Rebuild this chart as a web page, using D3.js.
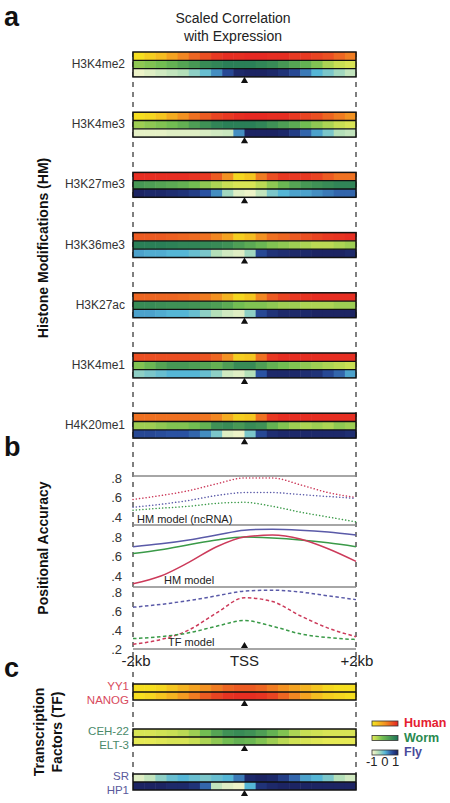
<!DOCTYPE html>
<html><head><meta charset="utf-8">
<script src="https://cdn.jsdelivr.net/npm/d3@7"></script>
<style>body{margin:0;background:#fff}svg{display:block;font-family:Arial,"Liberation Sans",sans-serif}</style>
</head><body>
<svg id="chart" width="450" height="803"></svg>
<script>
// ---------- DATA ----------
const bins = [-2.0,-1.8,-1.6,-1.4,-1.2,-1.0,-0.8,-0.6,-0.4,-0.2,0.0,0.2,0.4,0.6,0.8,1.0,1.2,1.4,1.6,1.8];
const binWidth = 0.2;
const hmMarks = ["H3K4me2","H3K4me3","H3K27me3","H3K36me3","H3K27ac","H3K4me1","H4K20me1"];
const hmHuman = [
  [-0.9,-0.7,-0.5,-0.2,0.1,0.4,0.6,0.8,0.9,0.9,0.95,0.95,0.9,0.9,0.8,0.8,0.7,0.6,0.4,0.2],
  [-0.9,-0.8,-0.6,-0.3,0.0,0.3,0.5,0.7,0.8,0.9,0.95,0.95,0.9,0.9,0.8,0.7,0.6,0.4,0.2,0.0],
  [0.9,0.9,0.9,0.9,0.9,0.85,0.8,0.5,0.0,-0.8,-0.6,0.2,0.6,0.8,0.8,0.8,0.7,0.5,0.3,0.3],
  [0.5,0.5,0.5,0.45,0.4,0.35,0.3,0.1,-0.2,-0.7,-0.5,0.0,0.3,0.4,0.5,0.6,0.7,0.8,0.85,0.9],
  [0.4,0.4,0.4,0.4,0.35,0.3,0.2,0.0,-0.4,-0.8,-0.6,0.1,0.5,0.7,0.8,0.85,0.9,0.9,0.9,0.9],
  [0.6,0.6,0.6,0.6,0.6,0.6,0.55,0.4,0.0,-0.7,-0.6,0.3,0.8,0.9,0.9,0.9,0.9,0.9,0.9,0.9],
  [0.3,0.3,0.3,0.3,0.3,0.3,0.25,0.1,-0.3,-0.7,-0.6,0.3,0.8,0.9,0.9,0.9,0.9,0.9,0.9,0.9]
];
const hmWorm = [
  [-0.4,-0.3,-0.2,0.0,0.2,0.4,0.6,0.7,0.8,0.8,0.8,0.7,0.6,0.4,0.2,0.0,-0.3,-0.6,-0.8,-0.9],
  [-0.5,-0.4,-0.3,-0.2,0.0,0.3,0.5,0.7,0.8,0.8,0.8,0.7,0.5,0.3,0.1,-0.2,-0.4,-0.6,-0.8,-0.9],
  [0.4,0.3,0.2,0.1,0.0,-0.2,-0.4,-0.6,-0.8,-0.9,-0.9,-0.7,-0.4,-0.1,0.2,0.4,0.5,0.6,0.7,0.7],
  [0.8,0.8,0.8,0.75,0.7,0.7,0.65,0.6,0.5,0.3,0.1,-0.1,-0.3,-0.4,-0.5,-0.6,-0.7,-0.7,-0.6,-0.5],
  [0.6,0.6,0.55,0.5,0.5,0.45,0.4,0.3,0.1,-0.2,-0.3,-0.3,-0.4,-0.5,-0.5,-0.6,-0.6,-0.6,-0.5,-0.5],
  [-0.3,-0.1,0.2,0.4,0.4,0.3,0.2,0.0,0.3,0.6,0.6,0.3,0.0,-0.2,-0.3,-0.4,-0.5,-0.6,-0.7,-0.8],
  [-0.5,-0.5,-0.4,-0.3,-0.3,-0.2,0.0,0.5,0.6,0.4,0.6,0.5,0.0,-0.3,-0.5,-0.6,-0.5,-0.6,-0.4,-0.5]
];
const hmFly = [
  [-0.9,-0.8,-0.7,-0.6,-0.5,-0.3,-0.1,0.2,0.6,0.9,0.95,0.95,0.9,0.8,0.6,0.3,0.0,-0.2,-0.4,-0.6],
  [-0.85,-0.85,-0.85,-0.8,-0.8,-0.8,-0.75,-0.7,-0.65,0.2,0.95,0.95,0.95,0.9,0.7,0.4,0.1,-0.2,-0.5,-0.6],
  [0.95,0.9,0.9,0.85,0.8,0.7,0.5,0.2,-0.4,-0.8,-0.9,-0.6,-0.2,0.0,0.1,0.1,0.2,0.3,0.4,0.4],
  [0.1,0.05,0.05,0.0,0.0,-0.1,-0.2,-0.5,-0.7,-0.8,-0.4,0.6,0.8,0.85,0.9,0.9,0.95,0.95,0.95,0.9],
  [0.1,0.1,0.05,0.0,0.0,-0.1,-0.3,-0.5,-0.7,-0.8,-0.3,0.6,0.8,0.9,0.9,0.9,0.95,0.95,0.95,0.95],
  [-0.3,-0.2,-0.1,0.0,0.0,0.0,-0.1,-0.3,-0.7,-0.8,-0.5,0.5,0.9,0.9,0.9,0.85,0.8,0.6,0.4,0.1],
  [0.6,0.6,0.55,0.5,0.5,0.4,0.2,-0.2,-0.8,-0.9,-0.2,0.6,0.85,0.9,0.9,0.9,0.9,0.9,0.9,0.85]
];
const tfNames = [["YY1","NANOG"],["CEH-22","ELT-3"],["SR","HP1"]];
const tfSpecies = ["human","worm","fly"];
const tfValues = [
  [[-0.9,-0.9,-0.8,-0.6,-0.4,-0.2,0.0,0.2,0.4,0.5,0.5,0.4,0.2,0.0,-0.2,-0.4,-0.6,-0.8,-0.9,-0.9],
   [-0.9,-0.8,-0.6,-0.4,-0.1,0.2,0.5,0.7,0.85,0.9,0.9,0.85,0.7,0.4,0.1,-0.2,-0.5,-0.7,-0.8,-0.9]],
  [[-0.9,-0.9,-0.85,-0.8,-0.7,-0.5,-0.2,0.2,0.5,0.6,0.5,0.3,0.0,-0.3,-0.6,-0.8,-0.85,-0.9,-0.9,-0.9],
   [-1,-1,-0.95,-0.9,-0.9,-0.8,-0.6,-0.4,-0.2,0.0,-0.1,-0.3,-0.5,-0.7,-0.85,-0.9,-0.95,-1,-1,-1]],
  [[-0.8,-0.6,-0.3,-0.1,0.0,-0.1,-0.2,-0.1,0.0,0.3,0.9,0.95,0.9,0.7,0.4,0.1,0.0,-0.2,-0.5,-0.7],
   [0.95,0.95,0.95,0.9,0.9,0.8,0.4,-0.6,-0.8,-0.9,0.0,0.8,0.9,0.95,0.95,0.95,0.95,0.95,0.95,0.95]]
];
const accX = [-2,-1.5,-1,-0.5,0,0.5,1,1.5,2];
const ncAccHuman = [0.58,0.62,0.67,0.74,0.80,0.80,0.73,0.65,0.60];
const ncAccWorm  = [0.47,0.49,0.51,0.54,0.55,0.51,0.45,0.40,0.35];
const ncAccFly   = [0.50,0.53,0.57,0.62,0.65,0.65,0.63,0.61,0.59];
const hmAccHuman = [0.32,0.40,0.54,0.70,0.80,0.82,0.78,0.68,0.55];
const hmAccWorm  = [0.63,0.67,0.72,0.77,0.80,0.79,0.77,0.74,0.70];
const hmAccFly   = [0.70,0.73,0.77,0.82,0.87,0.88,0.87,0.85,0.82];
const tfAccHuman = [0.25,0.30,0.40,0.58,0.74,0.70,0.55,0.42,0.33];
const tfAccWorm  = [0.31,0.33,0.37,0.44,0.50,0.44,0.36,0.32,0.30];
const tfAccFly   = [0.64,0.67,0.71,0.76,0.81,0.82,0.80,0.76,0.72];
const accTicks = [[0.8,0.6,0.4],[0.8,0.6,0.4],[0.8,0.6,0.4,0.2]];
const accTickLabels = [[".8",".6",".4"],[".8",".6",".4"],[".8",".6",".4",".2"]];
const panelNames = ["HM model (ncRNA)","HM model","TF model"];
const xTickVals = [-2,0,2];
const xTickLabels = ["-2kb","TSS","+2kb"];
const legendNames = ["Human","Worm","Fly"];
const legendTicks = ["-1 0 1"];

// ---------- STYLE ----------
const svg = d3.select("#chart");
const x = d3.scaleLinear().domain([-2,2]).range([133,356]);
const cmaps = {
  human: d3.scaleLinear().domain([-1,0,1]).range(["#f6e81f","#f39222","#e52322"]).clamp(true),
  worm:  d3.scaleLinear().domain([-1,-0.2,1]).range(["#e6ea55","#72bd52","#1b7258"]).clamp(true),
  fly:   d3.scaleLinear().domain([-1,-0.5,0,0.5,1]).range(["#fbf8cc","#b4dfb9","#55b6d6","#2a52a2","#1a1f5c"]).clamp(true)
};
const spColor = {human:"#e52030", worm:"#2a8a50", fly:"#4a4a9c"};
const lblColor = {human:"#d84a5c", worm:"#4a8a6a", fly:"#5a5a9c"};
const lineColor = {human:"#cc3a5a", worm:"#3a9a48", fly:"#5a5aa8"};

// dashed guides
[x(-2), x(2)].forEach(xx => {
  svg.append("line").attr("x1",xx).attr("x2",xx).attr("y1",52).attr("y2",782)
    .attr("stroke","#555").attr("stroke-width",1.5).attr("stroke-dasharray","5,5");
});

function drawHeat(top, rows, rowH) {
  const g = svg.append("g");
  rows.forEach((r,i) => {
    g.selectAll(null).data(r.vals).join("rect")
      .attr("x",(d,j)=>x(bins[j])).attr("y",top+i*rowH)
      .attr("width",(d,j)=>x(bins[j]+binWidth)-x(bins[j])+0.5).attr("height",rowH)
      .attr("fill",d=>r.cmap(d));
  });
  const h = rows.length*rowH;
  for (let i=1;i<rows.length;i++) g.append("line").attr("x1",x(-2)).attr("x2",x(2))
    .attr("y1",top+i*rowH).attr("y2",top+i*rowH).attr("stroke","#111").attr("stroke-width",1.3);
  g.append("rect").attr("x",x(-2)).attr("y",top).attr("width",x(2)-x(-2)).attr("height",h)
    .attr("fill","none").attr("stroke","#111").attr("stroke-width",1.5);
  g.append("path").attr("d",d3.symbol(d3.symbolTriangle,22)())
    .attr("transform",`translate(${x(0)},${top+h+4})`).attr("fill","#111");
}

// Title
svg.append("text").attr("x",233).attr("y",23).attr("text-anchor","middle").attr("font-size",14).attr("fill","#222").text("Scaled Correlation");
svg.append("text").attr("x",233).attr("y",41).attr("text-anchor","middle").attr("font-size",14).attr("fill","#222").text("with Expression");

// panel letters
[["a",4,26],["b",4,456],["c",4,677]].forEach(([t,xx,yy]) =>
  svg.append("text").attr("x",xx).attr("y",yy).attr("font-size",27).attr("font-weight","bold").attr("fill","#111").text(t));

// HM heatmaps
hmMarks.forEach((m,i) => {
  const top = 52 + i*60.2;
  drawHeat(top, [{vals:hmHuman[i],cmap:cmaps.human},{vals:hmWorm[i],cmap:cmaps.worm},{vals:hmFly[i],cmap:cmaps.fly}], 8.3);
  svg.append("text").attr("x",125).attr("y",top+16).attr("text-anchor","end").attr("font-size",12).attr("fill","#333").text(m);
});

// rotated axis titles
function vtext(t,xx,yy){ svg.append("text").attr("transform",`translate(${xx},${yy}) rotate(-90)`)
  .attr("text-anchor","middle").attr("font-size",14).attr("font-weight","bold").attr("fill","#111").text(t); }
vtext("Histone Modifications (HM)",48,248);
vtext("Positional Accuracy",48,548);
vtext("Transcription",44,732);
vtext("Factors (TF)",62,732);

// Panel b line charts
const panels = [
  {top:476,bottom:525,dom:[0.318,0.82],series:[[ncAccHuman,"human"],[ncAccFly,"fly"],[ncAccWorm,"worm"]],dash:"0.1,3.2"},
  {top:525,bottom:587,dom:[0.287,0.923],series:[[hmAccFly,"fly"],[hmAccWorm,"worm"],[hmAccHuman,"human"]],dash:null},
  {top:587,bottom:649,dom:[0.2,0.853],series:[[tfAccFly,"fly"],[tfAccHuman,"human"],[tfAccWorm,"worm"]],dash:"3.5,2.5"}
];
panels.forEach((p,pi) => {
  const y = d3.scaleLinear().domain(p.dom).range([p.bottom,p.top]);
  p.series.forEach(([vals,sp]) => {
    const line = d3.line().x((d,i)=>x(accX[i])).y(d=>y(d)).curve(d3.curveMonotoneX);
    svg.append("path").attr("d",line(vals)).attr("fill","none").attr("stroke",lineColor[sp])
      .attr("stroke-width",1.5).attr("stroke-linecap",p.dash && p.dash.startsWith("0.1")?"round":"butt")
      .attr("stroke-dasharray",p.dash);
  });
  accTicks[pi].forEach((t,k) => svg.append("text").attr("x",122).attr("y",y(t)).attr("dy","0.35em")
    .attr("text-anchor","end").attr("font-size",13).attr("fill","#333").text(accTickLabels[pi][k]));
});
[476,525,587,649].forEach(yy => svg.append("line").attr("x1",x(-2)).attr("x2",x(2)).attr("y1",yy).attr("y2",yy)
  .attr("stroke","#888").attr("stroke-width",1.5));
svg.append("text").attr("x",137).attr("y",523).attr("font-size",11).attr("fill","#222").text(panelNames[0]);
svg.append("text").attr("x",164).attr("y",584).attr("font-size",11).attr("fill","#222").text(panelNames[1]);
svg.append("text").attr("x",168).attr("y",646).attr("font-size",11).attr("fill","#222").text(panelNames[2]);
svg.append("path").attr("d",d3.symbol(d3.symbolTriangle,22)()).attr("transform",`translate(${x(0)},${646})`).attr("fill","#111");
xTickVals.forEach((v,i) => svg.append("text").attr("x",x(v)+(i===0?3:i===2?1:0)).attr("y",666).attr("text-anchor","middle")
  .attr("font-size",15).attr("fill","#222").text(xTickLabels[i]));

// TF heatmaps
tfNames.forEach((names,i) => {
  const top = 684 + i*45;
  const sp = tfSpecies[i];
  drawHeat(top, tfValues[i].map(v=>({vals:v,cmap:cmaps[sp]})), 8);
  svg.append("text").attr("x",129).attr("y",top+6).attr("text-anchor","end").attr("font-size",11.5).attr("fill",lblColor[sp]).text(names[0]);
  svg.append("text").attr("x",129).attr("y",top+19.5).attr("text-anchor","end").attr("font-size",11.5).attr("fill",lblColor[sp]).text(names[1]);
});

// legend
const defs = svg.append("defs");
tfSpecies.forEach((sp,i) => {
  const gid = "lg"+sp;
  const grad = defs.append("linearGradient").attr("id",gid);
  d3.range(0,1.0001,0.1).forEach(t => grad.append("stop").attr("offset",t).attr("stop-color",cmaps[sp](-1+2*t)));
  const yy = 721 + i*14.5;
  svg.append("rect").attr("x",372).attr("y",yy).attr("width",26).attr("height",5)
    .attr("fill",`url(#${gid})`).attr("stroke","#333").attr("stroke-width",0.8);
  svg.append("text").attr("x",404).attr("y",yy+6).attr("font-size",12.5).attr("font-weight","bold")
    .attr("fill",spColor[sp]).text(legendNames[i]);
});
svg.append("text").attr("x",366).attr("y",766).attr("font-size",13).attr("fill","#222").text(legendTicks[0]);
</script>
</body></html>
